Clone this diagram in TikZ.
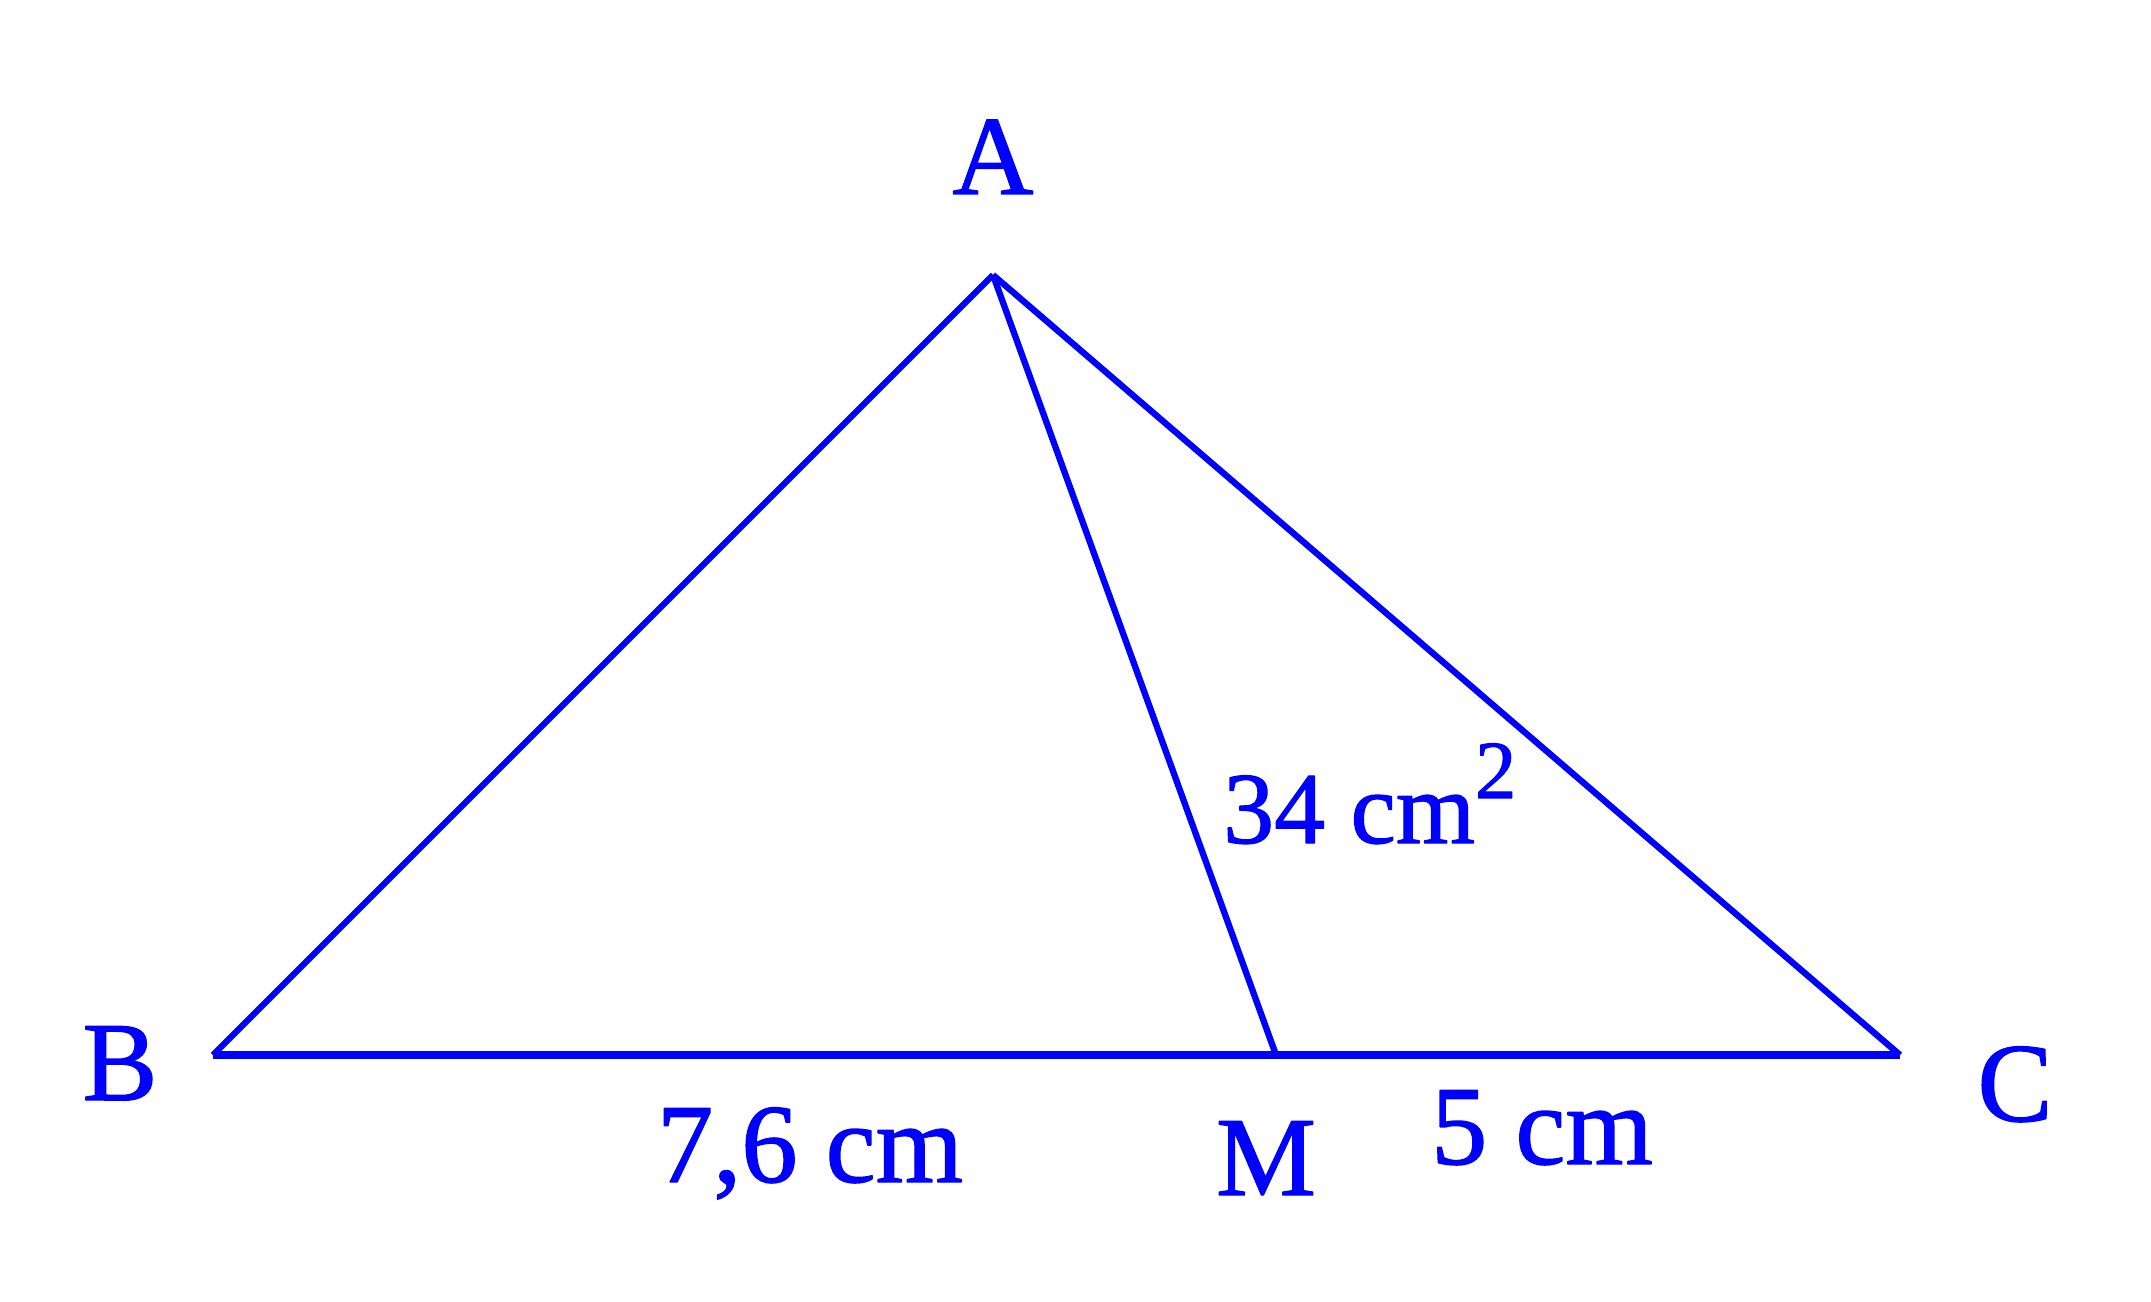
\documentclass[tikz,border=0pt]{standalone}
\usepackage{fontspec}
\setmainfont{Liberation Serif}[BoldFont={Liberation Serif},BoldFeatures={FakeBold=1.2}]
\begin{document}
\begin{tikzpicture}[line width=1.8pt,color=blue,line join=bevel,
  lab/.style={anchor=base,inner sep=0pt,font=\fontsize{32}{38}\selectfont\bfseries},
  area/.style={anchor=base west,inner sep=0pt,font=\fontsize{29}{34}\selectfont\bfseries}]
\useasboundingbox (0,0) rectangle (21.51,13.01);

\coordinate (a) at (9.93,10.26);
\coordinate (b) at (2.13,2.46);
\coordinate (c) at (19.00,2.46);
\coordinate (m) at (12.76,2.46);

\draw (b) -- (a);
\draw (a) -- (c);
\draw[line width=2pt] (b) -- (c);
\draw (a) -- (m);

\node[lab] (la) at (9.93,11.07) {A};
\node[lab] (lb) at (1.20,2.01) {B};
\node[lab] (lc) at (20.15,1.80) {C};
\node[lab] (lm) at (12.66,1.06) {M};

\node[lab] (bm) at (8.10,1.19) {7,6 cm};
\node[lab] (mc) at (15.42,1.37) {5 cm};
\node[area] (s) at (12.20,4.58) {34 cm\raisebox{0.45cm}{\fontsize{23.5}{28}\selectfont 2}};

\end{tikzpicture}
\end{document}
